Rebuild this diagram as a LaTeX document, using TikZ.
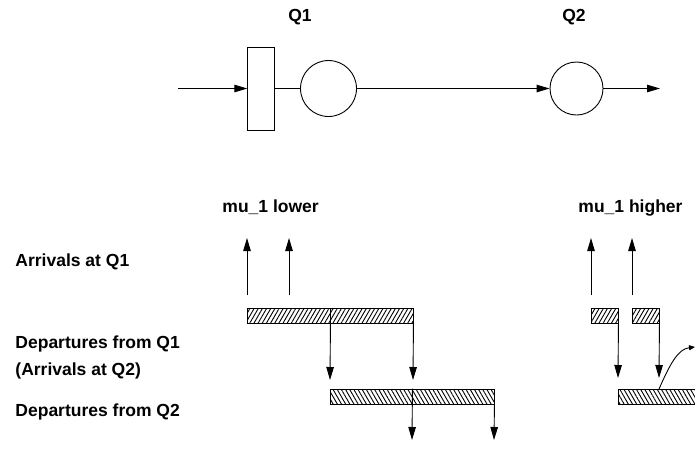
\documentclass[tikz,border=0pt]{standalone}
\usepackage{fontspec}
\setmainfont{Liberation Sans}
\usetikzlibrary{arrows.meta,patterns.meta}
\begin{document}
\begin{tikzpicture}[x=1pt,y=-1pt,line width=0.9pt,
  lbl/.style={font=\fontsize{17.5}{20}\selectfont\bfseries,inner sep=0pt},
  arr/.style={-{Triangle[length=13pt,width=7.5pt]}},
  barA/.style={draw,pattern={Lines[angle=60,distance=3.6pt,line width=0.9pt]},minimum height=15pt,inner sep=0pt},
  barB/.style={draw,pattern={Lines[angle=-60,distance=3.6pt,line width=0.9pt]},minimum height=15pt,inner sep=0pt},
  que/.style={draw,circle,inner sep=0pt}]
\useasboundingbox (0,0) rectangle (695,475);
% top network
\node[lbl,anchor=base] (q1) at (300,21) {Q1};
\node[lbl,anchor=base] (q2) at (574,21) {Q2};
\coordinate (in) at (178,88.5);
\node[draw,minimum width=26.5pt,minimum height=83pt,inner sep=0pt] (buf) at (261,88.5) {};
\node[que,minimum size=56pt] (s1) at (328.5,88.5) {};
\node[que,minimum size=53pt] (s2) at (576.5,88.5) {};
\coordinate (out) at (660,88.5);
\draw[arr] (in) -- (buf.west);
\draw (buf.east) -- (s1.west);
\draw[arr] (s1.east) -- (s2.west);
\draw[arr] (s2.east) -- (out);
% labels
\node[lbl,anchor=base west] (lo) at (222,212) {mu\_1 lower};
\node[lbl,anchor=base west] (hi) at (578,212) {mu\_1 higher};
\node[lbl,anchor=base west] (l1) at (15,266) {Arrivals at Q1};
\node[lbl,anchor=base west] (l2) at (15,348) {Departures from Q1};
\node[lbl,anchor=base west] (l3) at (15,375) {(Arrivals at Q2)};
\node[lbl,anchor=base west] (l4) at (15,416) {Departures from Q2};
% left case
\node[barA,minimum width=83pt] (a1) at (288.5,315.5) {};
\node[barA,minimum width=83pt] (a2) at (371.5,315.5) {};
\node[barB,minimum width=82pt] (b1) at (371,396.5) {};
\node[barB,minimum width=82pt] (b2) at (453,396.5) {};
\coordinate (u1s) at (247,295); \coordinate (u1e) at (247,238);
\coordinate (u2s) at (289,295); \coordinate (u2e) at (289,238);
\draw[arr] (u1s) -- (u1e);
\draw[arr] (u2s) -- (u2e);
\coordinate (d1) at (330,380); \coordinate (d2) at (413,380);
\draw[arr] (a1.south east) -- (d1);
\draw[arr] (a2.south east) -- (d2);
\coordinate (e1) at (412,440); \coordinate (e2) at (494,440);
\draw[arr] (b1.north east) -- (e1);
\draw[arr] (b2.south east) -- (e2);
% right case
\node[barA,minimum width=27pt] (c1) at (604.5,315.5) {};
\node[barA,minimum width=27pt] (c2) at (645.5,315.5) {};
\node[barB,minimum width=82pt,anchor=west] (c3) at (618,396.5) {};
\coordinate (v1s) at (591,295); \coordinate (v1e) at (591,238);
\coordinate (v2s) at (632,295); \coordinate (v2e) at (632,238);
\draw[arr] (v1s) -- (v1e);
\draw[arr] (v2s) -- (v2e);
\coordinate (f1) at (618,378); \coordinate (f2) at (659,378);
\draw[arr] (c1.south east) -- (f1);
\draw[arr] (c2.south east) -- (f2);
\coordinate (cv) at (659,389);
\coordinate (cvend) at (695,347);
\draw[-{Triangle[length=6pt,width=5pt]}] (cv) .. controls (670,364) and (678,349) .. (cvend);
\end{tikzpicture}
\end{document}
